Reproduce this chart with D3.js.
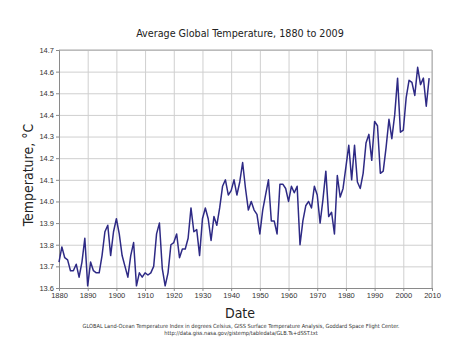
<!DOCTYPE html>
<html>
<head>
<meta charset="utf-8">
<script src="https://cdn.jsdelivr.net/npm/d3@7"></script>
<style>
  html, body { margin: 0; padding: 0; background: #fff; }
  svg { display: block; font-family: 'DejaVu Sans Condensed', 'Liberation Sans', sans-serif; }
  .grid line { stroke: #cfcfcf; stroke-width: 1; }
  .grid .domain { display: none; }
  .axis .domain, .axis line { stroke: #8a8a8a; }
  .axis text { fill: #333; font-size: 7.5px; }
</style>
</head>
<body>
<svg id="chart" width="464" height="348"></svg>
<script>
const years = d3.range(1880, 2010);
const temps = [
    13.72, 13.79, 13.74, 13.73, 13.68, 13.68, 13.71, 13.65, 13.72, 13.83,
    13.61, 13.72, 13.68, 13.67, 13.67, 13.75, 13.86, 13.89, 13.75, 13.86,
    13.92, 13.85, 13.75, 13.70, 13.65, 13.75, 13.81, 13.61, 13.67, 13.65,
    13.67, 13.66, 13.67, 13.70, 13.85, 13.90, 13.69, 13.61, 13.67, 13.80,
    13.81, 13.85, 13.74, 13.78, 13.78, 13.83, 13.97, 13.86, 13.87, 13.75,
    13.92, 13.97, 13.92, 13.82, 13.93, 13.89, 13.97, 14.07, 14.10, 14.03,
    14.05, 14.10, 14.03, 14.09, 14.18, 14.06, 13.96, 14.00, 13.96, 13.94,
    13.85, 13.96, 14.03, 14.10, 13.91, 13.91, 13.85, 14.08, 14.08, 14.06,
    14.00, 14.07, 14.04, 14.07, 13.80, 13.91, 13.98, 14.00, 13.97, 14.07,
    14.03, 13.90, 14.01, 14.14, 13.93, 13.95, 13.85, 14.12, 14.02, 14.06,
    14.16, 14.26, 14.10, 14.26, 14.09, 14.06, 14.13, 14.27, 14.31, 14.19,
    14.37, 14.35, 14.13, 14.14, 14.25, 14.38, 14.29, 14.40, 14.57, 14.32,
    14.33, 14.48, 14.56, 14.55, 14.49, 14.62, 14.54, 14.57, 14.44, 14.57
];
const xTicks = d3.range(1880, 2011, 10);
const yTicks = d3.range(13.6, 14.71, 0.1).map(v => +v.toFixed(1));
const titleText = 'Average Global Temperature, 1880 to 2009';
const xTitle = 'Date';
const yTitle = 'Temperature, \u00B0C';
const captionLines = [
    'GLOBAL Land-Ocean Temperature Index in degrees Celsius, GISS Surface Temperature Analysis, Goddard Space Flight Center.',
    'http://data.giss.nasa.gov/gistemp/tabledata/GLB.Ts+dSST.txt'
];

const data = years.map((y, i) => ({ year: y, temp: temps[i] }));

const margin = { top: 50, right: 32, bottom: 60, left: 59 };
const width = 464 - margin.left - margin.right;
const height = 348 - margin.top - margin.bottom;

const svg = d3.select('#chart');
const root = svg.append('g').attr('transform', `translate(${margin.left},${margin.top})`);

const x = d3.scaleLinear().domain([1880, 2010]).range([0, width]);
const y = d3.scaleLinear().domain([13.6, 14.7]).range([height, 0]);

root.append('g').attr('class', 'grid')
    .attr('transform', `translate(0,${height})`)
    .call(d3.axisBottom(x).tickValues(xTicks).tickSize(-height).tickFormat(''));
root.append('g').attr('class', 'grid')
    .call(d3.axisLeft(y).tickValues(yTicks).tickSize(-width).tickFormat(''));

// frame top and right
root.append('line').attr('x1', 0).attr('x2', width).attr('y1', 0).attr('y2', 0)
    .attr('stroke', '#a8a8a8');
root.append('line').attr('x1', width).attr('x2', width).attr('y1', 0).attr('y2', height)
    .attr('stroke', '#a8a8a8');

root.append('g').attr('class', 'axis')
    .attr('transform', `translate(0,${height})`)
    .call(d3.axisBottom(x).tickValues(xTicks).tickFormat(d3.format('d')).tickSize(3).tickPadding(2));
root.append('g').attr('class', 'axis')
    .call(d3.axisLeft(y).tickValues(yTicks).tickFormat(d3.format('.1f')).tickSize(3).tickPadding(2));

root.append('path')
    .datum(data)
    .attr('fill', 'none')
    .attr('stroke', '#2e2a85')
    .attr('stroke-width', 1.5)
    .attr('stroke-linejoin', 'round')
    .attr('d', d3.line().x(d => x(d.year)).y(d => y(d.temp)));

const centerX = 240;

svg.append('text')
    .attr('x', centerX)
    .attr('y', 37)
    .attr('text-anchor', 'middle')
    .attr('font-size', 10.7)
    .attr('fill', '#222')
    .text(titleText);

svg.append('text')
    .attr('x', centerX)
    .attr('y', 318)
    .attr('text-anchor', 'middle')
    .attr('font-size', 14)
    .attr('fill', '#222')
    .text(xTitle);

svg.append('text')
    .attr('transform', `translate(33,${margin.top + height / 2 + 6}) rotate(-90)`)
    .attr('text-anchor', 'middle')
    .attr('font-size', 14)
    .attr('fill', '#222')
    .text(yTitle);

svg.selectAll('.caption')
    .data(captionLines)
    .join('text')
    .attr('class', 'caption')
    .attr('x', centerX + 1)
    .attr('y', (d, i) => 328 + i * 7)
    .attr('text-anchor', 'middle')
    .attr('font-size', 5.6)
    .attr('fill', '#333')
    .text(d => d);
</script>
</body>
</html>
